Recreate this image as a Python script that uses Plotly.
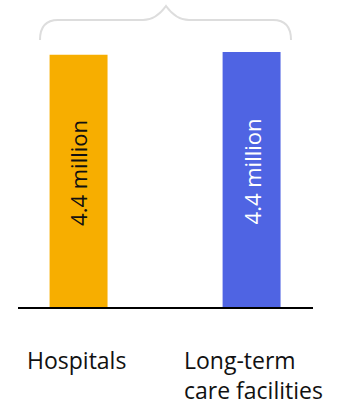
import plotly.graph_objects as go

categories = ["Hospitals", "Long-term care facilities"]
label_lines = [["Hospitals"], ["Long-term", "care facilities"]]
values = [4.35, 4.40]
value_labels = ["4.4 million", "4.4 million"]
bar_colors = ["#F7AE00", "#4F64E3"]
text_colors = ["#111111", "#FFFFFF"]

W, H = 350, 405
def px(x):
    return x / W
def py(y):
    return 1 - y / H

fig = go.Figure()
fig.add_trace(go.Bar(
    x=categories, y=values, width=0.335,
    marker=dict(color=bar_colors, line=dict(width=0)),
    hoverinfo="skip",
))

# in-bar value labels
for c, v, t, tc in zip(categories, values, value_labels, text_colors):
    fig.add_annotation(x=c, y=v * 0.53, xref="x", yref="y", text=t,
                       textangle=-90, showarrow=False,
                       font=dict(family="Open Sans", size=22, color=tc))

lab_font = dict(family="Open Sans", size=23, color="#111111")
# category labels below
fig.add_annotation(x=px(76.5), y=py(360), xref="paper", yref="paper",
                   text=label_lines[0][0], showarrow=False,
                   xanchor="center", yanchor="middle", font=lab_font)
fig.add_annotation(x=px(182), y=py(360), xref="paper", yref="paper",
                   text=label_lines[1][0], showarrow=False,
                   xanchor="left", yanchor="middle", font=lab_font)
fig.add_annotation(x=px(182), y=py(390), xref="paper", yref="paper",
                   text=label_lines[1][1], showarrow=False,
                   xanchor="left", yanchor="middle", font=lab_font)

# brace
def P(x, y):
    return f"{px(x):.5f},{py(y):.5f}"
path = (f"M {P(40,40)} Q {P(40,20)} {P(58,20)} L {P(143,20)} "
        f"Q {P(156,20)} {P(166,6)} Q {P(176,20)} {P(189,20)} "
        f"L {P(273,20)} Q {P(291,20)} {P(291,40)}")
fig.add_shape(type="path", path=path, xref="paper", yref="paper",
              line=dict(color="#DDDDDD", width=2))

fig.update_layout(
    width=W, height=H,
    margin=dict(l=0, r=0, t=0, b=0),
    paper_bgcolor="white", plot_bgcolor="white",
    showlegend=False,
    xaxis=dict(domain=[px(18), px(313)], range=[-0.35, 1.355],
               showticklabels=False, ticks="", showgrid=False,
               showline=True, linecolor="black", linewidth=2, zeroline=False),
    yaxis=dict(domain=[1 - 307 / H, 1 - 17.2 / H], range=[0, 5],
               visible=False, showgrid=False, zeroline=False),
)

fig.write_html("out.html")
